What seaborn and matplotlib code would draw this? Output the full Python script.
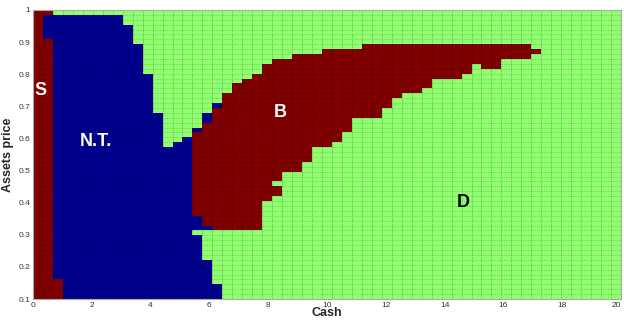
import numpy as np
import seaborn as sns
import matplotlib.pyplot as plt
from matplotlib.colors import ListedColormap

# region map: 59 cash columns x 59 price rows
# each column is a list of (region, number of rows) from the bottom (price 0.1) upwards
cash_min, cash_max = 0, 20
price_min, price_max = 0.1, 1.0
n_rows = 59

col_runs = (
    [[("S", 59)],
     [("S", 53), ("N", 5), ("S", 1)],
     [("S", 4), ("N", 54), ("D", 1)]]
    + [[("N", 58), ("D", 1)]] * 6
    + [[("N", 56), ("D", 3)],
       [("N", 52), ("D", 7)],
       [("N", 46), ("D", 13)],
       [("N", 38), ("D", 21)],
       [("N", 31), ("D", 28)],
       [("N", 32), ("D", 27)],
       [("N", 33), ("D", 26)],
       [("N", 13), ("D", 1), ("N", 3), ("B", 17), ("N", 1), ("D", 24)],
       [("N", 8), ("D", 6), ("N", 1), ("B", 21), ("N", 2), ("D", 21)],
       [("N", 3), ("D", 11), ("B", 25), ("N", 1), ("D", 19)],
       [("D", 14), ("B", 28), ("D", 17)],
       [("D", 14), ("B", 30), ("D", 15)],
       [("D", 14), ("B", 31), ("D", 14)],
       [("D", 14), ("B", 32), ("D", 13)],
       [("D", 20), ("B", 28), ("D", 11)],
       [("D", 21), ("B", 2), ("D", 1), ("B", 25), ("D", 10)],
       [("D", 26), ("B", 23), ("D", 10)],
       [("D", 26), ("B", 24), ("D", 9)],
       [("D", 28), ("B", 22), ("D", 9)],
       [("D", 31), ("B", 19), ("D", 9)],
       [("D", 31), ("B", 20), ("D", 8)],
       [("D", 32), ("B", 19), ("D", 8)],
       [("D", 34), ("B", 17), ("D", 8)],
       [("D", 37), ("B", 14), ("D", 8)],
       [("D", 37), ("B", 15), ("D", 7)],
       [("D", 37), ("B", 15), ("D", 7)],
       [("D", 39), ("B", 13), ("D", 7)],
       [("D", 41), ("B", 11), ("D", 7)],
       [("D", 42), ("B", 10), ("D", 7)],
       [("D", 42), ("B", 10), ("D", 7)],
       [("D", 43), ("B", 9), ("D", 7)]]
    + [[("D", 45), ("B", 7), ("D", 7)]] * 3
    + [[("D", 46), ("B", 6), ("D", 7)],
       [("D", 48), ("B", 4), ("D", 7)],
       [("D", 47), ("B", 5), ("D", 7)],
       [("D", 47), ("B", 5), ("D", 7)]]
    + [[("D", 49), ("B", 3), ("D", 7)]] * 3
    + [[("D", 50), ("B", 1), ("D", 8)]]
    + [[("D", 59)]] * 8
)

region_code = {"D": 0, "N": 1, "S": 2, "B": 3}
region_labels = ["S", "N.T.", "B", "D"]
label_pos = [(0.24, 0.75), (2.15, 0.59), (8.4, 0.68), (14.65, 0.40)]
label_color = ["white", "white", "white", "black"]

x_ticks = [0, 2, 4, 6, 8, 10, 12, 14, 16, 18, 20]
y_ticks = [0.1, 0.2, 0.3, 0.4, 0.5, 0.6, 0.7, 0.8, 0.9, 1.0]
y_tick_labels = ["0.1", "0.2", "0.3", "0.4", "0.5", "0.6", "0.7", "0.8", "0.9", "1"]

# build the grid (bottom row first), then flip for heatmap
n_cols = len(col_runs)
grid = np.zeros((n_rows, n_cols), dtype=int)
for c, runs in enumerate(col_runs):
    vals = []
    for name, count in runs:
        vals += [region_code[name]] * count
    grid[:, c] = vals
grid = np.flipud(grid)

sns.set_theme(style="white")
plt.rcParams['font.family'] = ['Liberation Sans', 'DejaVu Sans']

green = "#8fff70"
blue = "#00008f"
red = "#800000"
cmap = ListedColormap([green, blue, red, red])

fig = plt.figure(figsize=(6.24, 3.2), dpi=100)
ax = fig.add_axes([33 / 624, 21 / 320, 588 / 624, 289 / 320])
sns.heatmap(grid, cmap=cmap, vmin=-0.5, vmax=3.5, cbar=False, ax=ax,
            xticklabels=False, yticklabels=False)

# data value -> heatmap cell coordinates
def fx(v):
    return (v - cash_min) / (cash_max - cash_min) * n_cols

def fy(v):
    return (price_max - v) / (price_max - price_min) * n_rows

# dotted mesh like the original pcolor edges
ax.vlines(np.arange(1, n_cols), 0, n_rows, colors="black", linestyles=(0, (1, 1.5)),
          linewidth=0.5, alpha=0.5)
ax.hlines(np.arange(1, n_rows), 0, n_cols, colors="black", linestyles=(0, (1, 1.5)),
          linewidth=0.5, alpha=0.3)

for lab, (x, y), col in zip(region_labels, label_pos, label_color):
    ax.text(fx(x), fy(y), lab, color=col, fontsize=13, fontweight="bold",
            ha="center", va="center")

ax.set_xticks([fx(v) for v in x_ticks])
ax.set_xticklabels([str(v) for v in x_ticks])
ax.set_yticks([fy(v) for v in y_ticks])
ax.set_yticklabels(y_tick_labels, rotation=0)
ax.tick_params(axis="both", labelsize=6, colors="#333333", length=0, pad=2)
ax.get_xticklabels()[-1].set_ha("right")
ax.set_xlabel("Cash", fontsize=9, fontweight="bold", labelpad=-1)
ax.set_ylabel("Assets price", fontsize=9, fontweight="bold", labelpad=3)

for s in ax.spines.values():
    s.set_visible(True)
    s.set_color("#aaaaaa")
    s.set_linewidth(0.8)

plt.savefig("out.png", dpi=100)
